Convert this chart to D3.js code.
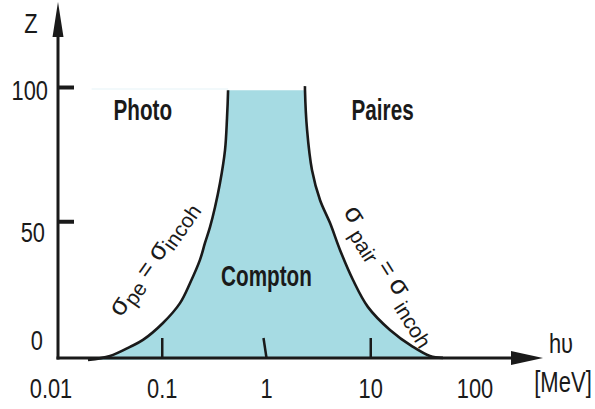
<!DOCTYPE html>
<html><head><meta charset="utf-8">
<script src="https://cdn.jsdelivr.net/npm/d3@7"></script>
<style>body{margin:0;background:#fff} svg{display:block}</style>
</head><body>
<svg id="c" width="595" height="409"></svg>
<script>
// Boundary curves: photon energy (MeV) vs atomic number Z
const leftE = [0.0194, 0.0315, 0.0491, 0.0653, 0.1016, 0.148, 0.185, 0.230, 0.257, 0.287, 0.321, 0.358, 0.400, 0.418, 0.428];
const leftZ = [-1.5, 0, 3.4, 6.0, 12.3, 19.7, 27.2, 35.8, 42.1, 48.0, 55.5, 64.4, 76.7, 88.6, 99];
const rightE = [2.34, 2.45, 2.73, 3.26, 4.07, 5.07, 6.76, 9.42, 15.3, 25.4, 37.0, 49.3];
const rightZ = [99, 84.2, 69.3, 58.1, 49.5, 39.5, 28.3, 18.2, 9.7, 3.4, 0, -0.7];

const xTickValues = [0.01, 0.1, 1, 10, 100];
const xTickLabels = ["0.01", "0.1", "1", "10", "100"];
const xInnerTicks = [0.1, 1, 10];
const yTickValues = [0, 50, 100];
const yTickLabels = ["0", "50", "100"];
const yInnerTicks = [50, 100];
const regionLabels = ["Photo", "Compton", "Paires"];
const regionPos = [[0.065, 88], [1.0, 26], [13, 88]];

const svg = d3.select("#c");
const x = d3.scaleLog().domain([0.01, 100]).range([58, 475]);
const y = d3.scaleLinear().domain([0, 100]).range([356, 87.5]);
const axisY = 358, axisX = 58;
const INK = "#1a1a1a", FILL = "#a6dbe3";
const FONT = "'Liberation Sans', Arial, Helvetica, sans-serif";

const leftPts = leftE.map((e, i) => [e, leftZ[i]]);
const rightPts = rightE.map((e, i) => [e, rightZ[i]]);
const line = d3.line().x(d => x(d[0])).y(d => y(d[1])).curve(d3.curveCatmullRom.alpha(0.5));

// faint top line
svg.append("line").attr("x1", x(0.021)).attr("x2", x(leftE[leftE.length-1]))
  .attr("y1", y(100)+1.5).attr("y2", y(100)+1.5).attr("stroke", "#e6f4f7").attr("stroke-width", 1.2);

// Compton region fill
const areaPath = line(leftPts) + "L" + line(rightPts).slice(1) + "Z";
svg.append("path").attr("d", areaPath).attr("fill", FILL).attr("stroke", "none");

// boundary curves
svg.append("path").attr("d", line(leftPts)).attr("fill", "none").attr("stroke", INK).attr("stroke-width", 2.6);
svg.append("path").attr("d", line([[rightE[0], 100.5]].concat(rightPts))).attr("fill", "none").attr("stroke", INK).attr("stroke-width", 2.6);

// axes
svg.append("line").attr("x1", axisX).attr("x2", axisX).attr("y1", 30).attr("y2", axisY+1.5)
  .attr("stroke", INK).attr("stroke-width", 3);
svg.append("line").attr("x1", axisX-1.5).attr("x2", 515).attr("y1", axisY).attr("y2", axisY)
  .attr("stroke", INK).attr("stroke-width", 3);
svg.append("path").attr("d", `M${axisX},2 L${axisX+5.5},37 L${axisX-5.5},37 Z`).attr("fill", INK);
svg.append("path").attr("d", `M543,${axisY} L511,${axisY-7} L511,${axisY+7} Z`).attr("fill", INK);

// inner ticks
svg.selectAll(".xt").data(xInnerTicks).enter().append("line")
  .attr("x1", d => x(d) - (d === 1 ? 3 : 0)).attr("x2", d => x(d))
  .attr("y1", axisY - 20).attr("y2", axisY)
  .attr("stroke", INK).attr("stroke-width", 2.5);
svg.selectAll(".yt").data(yInnerTicks).enter().append("line")
  .attr("x1", axisX).attr("x2", axisX + 16)
  .attr("y1", d => y(d)).attr("y2", d => y(d))
  .attr("stroke", INK).attr("stroke-width", 4);

function txt(px, py, s, size, sx, anchor, weight) {
  const g = svg.append("g").attr("transform", `translate(${px},${py}) scale(${sx},1)`);
  return g.append("text").attr("x", 0).attr("y", 0).attr("text-anchor", anchor)
    .attr("font-family", FONT).attr("font-size", size).attr("font-weight", weight || "normal")
    .attr("fill", INK).text(s);
}

// x tick labels
xTickValues.forEach((v, i) => {
  txt(x(v) + (i === 0 ? -7 : 0), 398, xTickLabels[i], 28, 0.78, "middle");
});
// y tick labels
const yLabelDy = [-6, 20, 12];
const yLabelRight = [43, 45, 48];
yTickValues.forEach((v, i) => {
  txt(yLabelRight[i], y(v) + yLabelDy[i], yTickLabels[i], 28, 0.78, "end");
});

// axis titles
txt(31, 33, "Z", 28, 0.78, "middle");
txt(561, 353, "hυ", 28, 0.78, "middle");
txt(563, 392, "[MeV]", 29, 0.76, "middle");

// region labels
regionLabels.forEach((s, i) => {
  txt(x(regionPos[i][0]), y(regionPos[i][1]), s, 30, 0.69, "middle", "bold");
});

// rotated boundary labels
function sigmaLabel(px, py, angle, parts) {
  const t = svg.append("text").attr("transform", `translate(${px},${py}) rotate(${angle})`)
    .attr("font-family", FONT).attr("fill", INK);
  parts.forEach(p => {
    t.append("tspan").attr("font-size", p.size).attr("dy", p.dy).attr("dx", p.dx || 0).text(p.t);
  });
}
sigmaLabel(121, 318, -55, [
  {t: "σ", size: 27, dy: 0},
  {t: "pe", size: 21, dy: 5},
  {t: " = ", size: 24, dy: -5},
  {t: "σ", size: 27, dy: 0},
  {t: "incoh", size: 21, dy: 5}
]);
sigmaLabel(343, 212, 58, [
  {t: "σ", size: 27, dy: 0},
  {t: " pair", size: 21, dy: 8},
  {t: " = ", size: 24, dy: -8},
  {t: "σ", size: 27, dy: 0},
  {t: " incoh", size: 21, dy: 8}
]);
</script>
</body></html>
